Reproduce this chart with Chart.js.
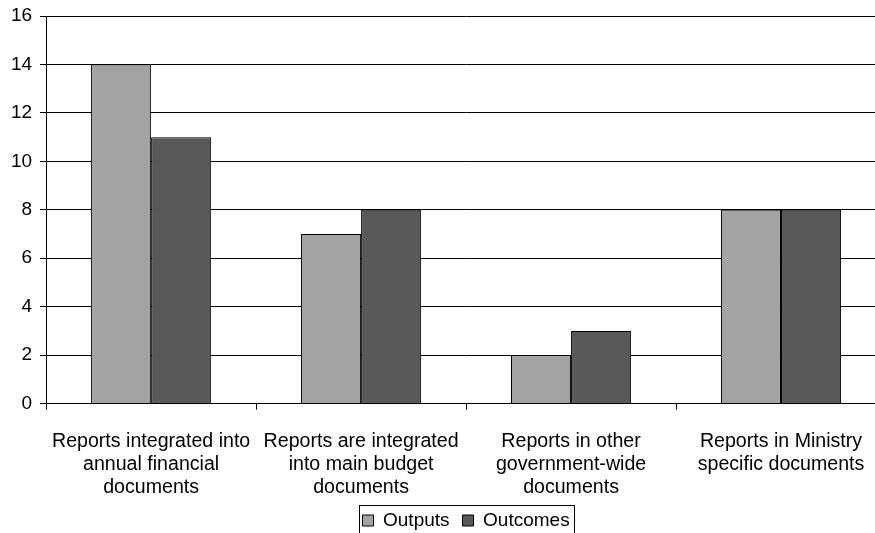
<!DOCTYPE html>
<html>
<head>
<meta charset="utf-8">
<script src="https://cdn.jsdelivr.net/npm/chart.js@4"></script>
<style>
  html, body { margin: 0; padding: 0; background: #fff; overflow: hidden; }
  #wrap { width: 886px; height: 540px; position: relative; }
</style>
</head>
<body>
<div id="wrap"><canvas id="chart"></canvas></div>
<script>
const categories = [
    ['Reports integrated into', 'annual financial', 'documents'],
    ['Reports are integrated', 'into main budget', 'documents'],
    ['Reports in other', 'government-wide', 'documents'],
    ['Reports in Ministry', 'specific documents']
];
const outputs = [14, 7, 2, 8];
const outcomes = [11, 8, 3, 8];

// draws the thin frame around the legend items, like the original spreadsheet chart
const legendFrame = {
    id: 'legendFrame',
    afterDraw(chart) {
        const boxes = chart.legend.legendHitBoxes;
        if (!boxes || !boxes.length) return;
        const left = Math.min(...boxes.map(b => b.left)) - 4;
        const right = Math.max(...boxes.map(b => b.left + b.width)) + 4;
        const top = Math.min(...boxes.map(b => b.top)) - 6;
        const bottom = Math.max(...boxes.map(b => b.top + b.height)) + 10;
        const ctx = chart.ctx;
        ctx.save();
        ctx.strokeStyle = '#000';
        ctx.lineWidth = 1;
        ctx.strokeRect(Math.round(left) + 0.5, Math.round(top) + 0.5, Math.round(right - left), Math.round(bottom - top));
        ctx.restore();
    }
};

Chart.defaults.font.family = '"Liberation Sans", Arial, sans-serif';
Chart.defaults.color = '#000';

new Chart(document.getElementById('chart'), {
    type: 'bar',
    data: {
        labels: categories,
        datasets: [
            { label: 'Outputs', data: outputs, backgroundColor: '#a3a3a3', borderColor: '#000', borderWidth: 1 },
            { label: 'Outcomes', data: outcomes, backgroundColor: '#595959', borderColor: '#000', borderWidth: 1 }
        ]
    },
    options: {
        responsive: true,
        maintainAspectRatio: false,
        animation: false,
        layout: { padding: { top: 16, left: 3, right: 0, bottom: 0 } },
        datasets: { bar: { barPercentage: 1, categoryPercentage: 0.572 } },
        plugins: {
            tooltip: { enabled: false },
            legend: {
                position: 'bottom',
                fullSize: false,
                labels: { boxWidth: 11, boxHeight: 11, padding: 13, font: { size: 19 }, color: '#000' }
            }
        },
        scales: {
            y: {
                min: 0, max: 16,
                ticks: { stepSize: 2, font: { size: 19 }, color: '#000', padding: 8 },
                grid: { color: '#000', tickLength: 6 },
                border: { color: '#000' },
                afterFit(scale) { scale.paddingTop = 0; }
            },
            x: {
                ticks: { font: { size: 19.6, lineHeight: 1.18 }, color: '#000', maxRotation: 0, autoSkip: false, padding: 20 },
                grid: { drawOnChartArea: false, color: '#000', tickLength: 6 },
                border: { color: '#000' },
                // labels may run down into the legend margin, as in the original
                afterFit(scale) { scale.height -= 21; }
            }
        }
    },
    plugins: [legendFrame]
});
</script>
</body>
</html>
